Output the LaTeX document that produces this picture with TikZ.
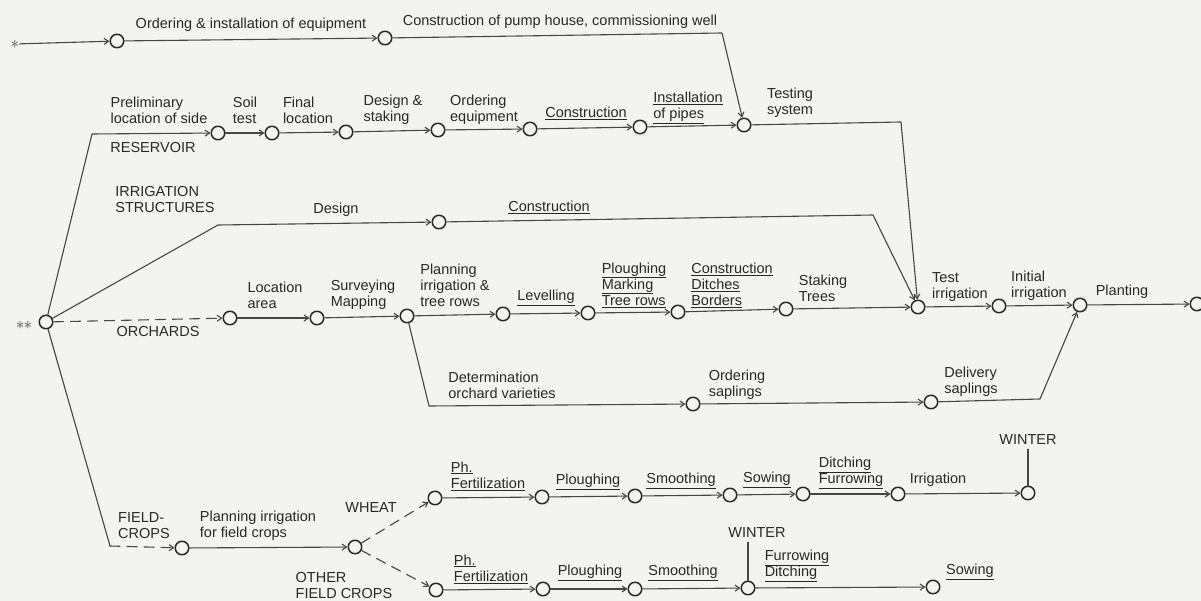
\documentclass[tikz,border=0pt]{standalone}
\usepackage{fontspec}
\setmainfont{Liberation Sans}
\usetikzlibrary{arrows.meta}
\definecolor{inkgray}{RGB}{40,40,40}
\definecolor{linegray}{RGB}{70,70,70}
\definecolor{paper}{RGB}{243,243,241}
\tikzset{
  ev/.style={circle, draw=inkgray, line width=1.5pt, fill=paper, minimum size=13.5pt, inner sep=0pt},
  act/.style={draw=linegray, line width=1.1pt, -{Straight Barb[length=4.5pt,width=6pt]}},
  dum/.style={act, dash pattern=on 10pt off 7pt},
  plain/.style={draw=linegray, line width=1.1pt},
  lbl/.style={font=\fontsize{14.5}{16}\selectfont, text=inkgray, align=left, inner sep=0pt},
}
\newcommand{\uln}[1]{\underline{#1}}
\begin{document}
\begin{tikzpicture}[x=1pt, y=-1pt, line cap=round, line join=round]
    \fill[paper] (0,0) rectangle (1201,601);
    \useasboundingbox (0,0) rectangle (1201,601);
    % events
    \node[lbl, text=linegray, font=\fontsize{18}{18}\selectfont] (s1) at (15,44) {$\ast$};
    \node[lbl, text=linegray, font=\fontsize{18}{18}\selectfont] (s2) at (24,325) {$\ast$\kern-1pt$\ast$};
    \node[ev] (o) at (46,322) {};
    \foreach \n/\x/\y in {t1/117/41, t2/385/38, r1/218/133, r2/272/133, r3/346/132, r4/438/130,
        r5/530/129, r6/640/127, r7/744/125, d1/439/222, oa/230/318, ob/317/318, oc/407/316,
        od/503/314, oe/588/313, of/678/312, og/786/309, oh/918/307, oi/999/306, oj/1080/305,
        ok/1197/304, p1/693/404, p2/931/402, fc1/182/548, fc2/355/547, w1/435/498, w2/542/497,
        w3/635/496, w4/730/495, w5/803/494, w6/898/494, w7/1028/493, u1/436/590, u2/543/589,
        u3/635/589, u4/748/588, u5/933/587}
      \node[ev] (\n) at (\x,\y) {};
    % bends
    \coordinate (cpump) at (722,33);
    \coordinate (cres) at (92,134);
    \coordinate (cstr) at (218,225);
    \coordinate (cstr2) at (873,215);
    \coordinate (ctest) at (901,122);
    \coordinate (cvar) at (429,406);
    \coordinate (cdel) at (1040,399);
    \coordinate (cfld) at (110,546);
    % labels
    \node[lbl] (lordr) at (251,25) {Ordering \& installation of equipment};
    \node[lbl] (lpump) at (560,22) {Construction of pump house, commissioning well};
    \node[lbl] (lprel) at (159,110) {Preliminary\\location of side};
    \node[lbl] (lsoil) at (245,110) {Soil\\test};
    \node[lbl] (lfin) at (308,110) {Final\\location};
    \node[lbl] (ldes) at (393,110) {Design \&\\staking};
    \node[lbl] (lorde) at (484,110) {Ordering\\equipment};
    \node[lbl] (lcons) at (586,113) {\uln{Construction}};
    \node[lbl] (linst) at (688,108) {\uln{Installation}\\\uln{of pipes}};
    \node[lbl] (ltest) at (790,103) {Testing\\system};
    \node[lbl] (lres) at (153,148) {RESERVOIR};
    \node[lbl] (lstr) at (165,200) {IRRIGATION\\STRUCTURES};
    \node[lbl] (ldsgn) at (336,210) {Design};
    \node[lbl] (lcon2) at (549,207) {\uln{Construction}};
    \node[lbl] (lorch) at (158,332) {ORCHARDS};
    \node[lbl] (lloc) at (275,295) {Location\\area};
    \node[lbl] (lsurv) at (363,295) {Surveying\\Mapping};
    \node[lbl] (lplan) at (455,285) {Planning\\irrigation \&\\tree rows};
    \node[lbl] (llev) at (546,298) {\uln{Levelling}};
    \node[lbl] (lplo) at (634,285) {\uln{Ploughing}\\\uln{Marking}\\\uln{Tree rows}};
    \node[lbl] (lcdb) at (732,285) {\uln{Construction}\\\uln{Ditches}\\\uln{Borders}};
    \node[lbl] (lstak) at (823,288) {Staking\\Trees};
    \node[lbl] (ltirr) at (960,287) {Test\\irrigation};
    \node[lbl] (linit) at (1039,286) {Initial\\irrigation};
    \node[lbl] (lplant) at (1122,292) {Planting};
    \node[lbl] (ldet) at (502,385) {Determination\\orchard varieties};
    \node[lbl] (lsap) at (737,385) {Ordering\\saplings};
    \node[lbl] (ldel) at (971,382) {Delivery\\saplings};
    \node[lbl] (lfc) at (144,526) {FIELD-\\CROPS};
    \node[lbl] (lpfc) at (258,526) {Planning irrigation\\for field crops};
    \node[lbl] (lwht) at (371,508) {WHEAT};
    \node[lbl] (loth) at (344,586) {OTHER\\FIELD CROPS};
    \node[lbl] (lwph) at (488,476) {\uln{Ph.}\\\uln{Fertilization}};
    \node[lbl] (lwplo) at (588,482) {\uln{Ploughing}};
    \node[lbl] (lwsmo) at (681,481) {\uln{Smoothing}};
    \node[lbl] (lwsow) at (767,480) {\uln{Sowing}};
    \node[lbl] (lwdit) at (851,473) {\uln{Ditching}\\\uln{Furrowing}};
    \node[lbl] (lwirr) at (938,480) {Irrigation};
    \node[lbl] (lwwin) at (1028,440) {WINTER};
    \node[lbl] (luph) at (491,569) {\uln{Ph.}\\\uln{Fertilization}};
    \node[lbl] (luplo) at (590,573) {\uln{Ploughing}};
    \node[lbl] (lusmo) at (683,573) {\uln{Smoothing}};
    \node[lbl] (luwin) at (757,533) {WINTER};
    \node[lbl] (lufur) at (797,566) {\uln{Furrowing}\\\uln{Ditching}};
    \node[lbl] (lusow) at (970,572) {\uln{Sowing}};
    % activities
    \draw[act] (s1) -- (t1);
    \draw[act] (t1) -- (t2);
    \draw[act] (t2) -- (cpump) -- (r7);
    \draw[act] (o) -- (cres) -- (r1);
    \draw[act] (r7) -- (ctest) -- (oh);
    \draw[act] (o) -- (cstr) -- (d1);
    \draw[act] (d1) -- (cstr2) -- (oh);
    \draw[dum] (o) -- (oa);
    \draw[act] (oc) -- (cvar) -- (p1);
    \draw[act] (p2) -- (cdel) -- (oj);
    \draw[plain] (o) -- (cfld);
    \draw[dum] (cfld) -- (fc1);
    \draw[dum] (fc2) -- (w1);
    \draw[dum] (fc2) -- (u1);
    \foreach \a/\b in {r1/r2, r2/r3, r3/r4, r4/r5, r5/r6, r6/r7, oa/ob, ob/oc, oc/od, od/oe,
        oe/of, of/og, og/oh, oh/oi, oi/oj, oj/ok, p1/p2, fc1/fc2, w1/w2, w2/w3, w3/w4, w4/w5,
        w5/w6, w6/w7, u1/u2, u2/u3, u3/u4, u4/u5}
      \draw[act] (\a) -- (\b);
    \draw[plain, shorten <=4pt] (lwwin) -- (w7);
    \draw[plain, shorten <=4pt] (luwin.south -| u4) -- (u4);
\end{tikzpicture}
\end{document}
